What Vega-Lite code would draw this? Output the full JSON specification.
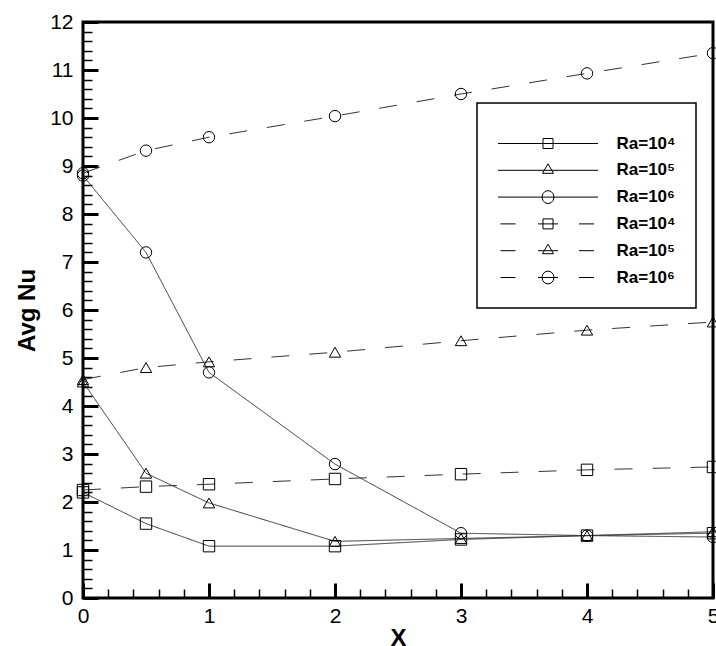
{
  "$schema": "https://vega.github.io/schema/vega-lite/v6.json",
  "width": 630,
  "height": 576,
  "autosize": {"type": "none"},
  "padding": {"left": 83, "top": 22, "right": 3, "bottom": 48},
  "background": "white",
  "config": {
    "view": {"stroke": "black", "strokeWidth": 3},
    "font": "Liberation Sans",
    "legend": {"strokeWidth": 1.5},
    "axis": {
      "grid": false,
      "domain": false,
      "tickColor": "black",
      "labelFont": "Liberation Sans",
      "labelFontSize": 21,
      "labelColor": "black",
      "labelOverlap": false,
      "labelFlush": false,
      "titleFont": "Liberation Sans",
      "titleFontSize": 24,
      "titleFontWeight": "bold",
      "titleColor": "black"
    }
  },
  "data": {
    "values": [
      {"x": 0, "nu": 2.2, "s": "s4"}, {"x": 0.5, "nu": 1.55, "s": "s4"}, {"x": 1, "nu": 1.08, "s": "s4"}, {"x": 2, "nu": 1.08, "s": "s4"}, {"x": 3, "nu": 1.22, "s": "s4"}, {"x": 4, "nu": 1.3, "s": "s4"}, {"x": 5, "nu": 1.35, "s": "s4"},
      {"x": 0, "nu": 4.5, "s": "s5"}, {"x": 0.5, "nu": 2.6, "s": "s5"}, {"x": 1, "nu": 1.98, "s": "s5"}, {"x": 2, "nu": 1.18, "s": "s5"}, {"x": 3, "nu": 1.24, "s": "s5"}, {"x": 4, "nu": 1.3, "s": "s5"}, {"x": 5, "nu": 1.38, "s": "s5"},
      {"x": 0, "nu": 8.8, "s": "s6"}, {"x": 0.5, "nu": 7.2, "s": "s6"}, {"x": 1, "nu": 4.7, "s": "s6"}, {"x": 2, "nu": 2.79, "s": "s6"}, {"x": 3, "nu": 1.35, "s": "s6"}, {"x": 4, "nu": 1.3, "s": "s6"}, {"x": 5, "nu": 1.27, "s": "s6"},
      {"x": 0, "nu": 2.25, "s": "d4"}, {"x": 0.5, "nu": 2.32, "s": "d4"}, {"x": 1, "nu": 2.37, "s": "d4"}, {"x": 2, "nu": 2.48, "s": "d4"}, {"x": 3, "nu": 2.58, "s": "d4"}, {"x": 4, "nu": 2.67, "s": "d4"}, {"x": 5, "nu": 2.73, "s": "d4"},
      {"x": 0, "nu": 4.55, "s": "d5"}, {"x": 0.5, "nu": 4.8, "s": "d5"}, {"x": 1, "nu": 4.92, "s": "d5"}, {"x": 2, "nu": 5.12, "s": "d5"}, {"x": 3, "nu": 5.36, "s": "d5"}, {"x": 4, "nu": 5.58, "s": "d5"}, {"x": 5, "nu": 5.75, "s": "d5"},
      {"x": 0, "nu": 8.85, "s": "d6"}, {"x": 0.5, "nu": 9.32, "s": "d6"}, {"x": 1, "nu": 9.6, "s": "d6"}, {"x": 2, "nu": 10.04, "s": "d6"}, {"x": 3, "nu": 10.5, "s": "d6"}, {"x": 4, "nu": 10.93, "s": "d6"}, {"x": 5, "nu": 11.35, "s": "d6"}
    ]
  },
  "resolve": {
    "axis": {"x": "independent", "y": "independent"},
    "scale": {"shape": "independent"}
  },
  "layer": [
    {
      "mark": {"type": "line", "strokeWidth": 1, "color": "#333333"},
      "encoding": {
        "x": {
          "field": "x",
          "type": "quantitative",
          "scale": {"domain": [0, 5], "nice": false, "zero": false},
          "axis": {
            "orient": "bottom",
            "title": "X",
            "values": [0, 1, 2, 3, 4, 5],
            "tickSize": -15,
            "tickWidth": 3,
            "labelPadding": 22,
            "titlePadding": 0
          }
        },
        "y": {
          "field": "nu",
          "type": "quantitative",
          "scale": {"domain": [0, 12], "nice": false, "zero": false},
          "axis": {
            "orient": "left",
            "title": "Avg Nu",
            "values": [0, 1, 2, 3, 4, 5, 6, 7, 8, 9, 10, 11, 12],
            "tickSize": -15,
            "tickWidth": 3,
            "labelPadding": 25,
            "titlePadding": 10
          }
        },
        "detail": {"field": "s", "type": "nominal"},
        "strokeDash": {
          "field": "s",
          "type": "nominal",
          "scale": {
            "domain": ["s4", "s5", "s6", "d4", "d5", "d6"],
            "range": [[1, 0], [1, 0], [1, 0], [18, 20], [18, 20], [18, 20]]
          },
          "legend": null
        }
      }
    },
    {
      "mark": {"type": "point", "filled": false, "color": "black", "strokeWidth": 1, "size": 130, "opacity": 1},
      "encoding": {
        "x": {
          "field": "x",
          "type": "quantitative",
          "axis": {
            "orient": "bottom",
            "title": null,
            "labels": false,
            "values": [0, 0.2, 0.4, 0.6, 0.8, 1, 1.2, 1.4, 1.6, 1.8, 2, 2.2, 2.4, 2.6, 2.8, 3, 3.2, 3.4, 3.6, 3.8, 4, 4.2, 4.4, 4.6, 4.8, 5],
            "tickSize": -9,
            "tickWidth": 1.5
          }
        },
        "y": {
          "field": "nu",
          "type": "quantitative",
          "axis": {
            "orient": "left",
            "title": null,
            "labels": false,
            "values": [0, 0.2, 0.4, 0.6, 0.8, 1, 1.2, 1.4, 1.6, 1.8, 2, 2.2, 2.4, 2.6, 2.8, 3, 3.2, 3.4, 3.6, 3.8, 4, 4.2, 4.4, 4.6, 4.8, 5, 5.2, 5.4, 5.6, 5.8, 6, 6.2, 6.4, 6.6, 6.8, 7, 7.2, 7.4, 7.6, 7.8, 8, 8.2, 8.4, 8.6, 8.8, 9, 9.2, 9.4, 9.6, 9.8, 10, 10.2, 10.4, 10.6, 10.8, 11, 11.2, 11.4, 11.6, 11.8, 12],
            "tickSize": -9,
            "tickWidth": 1.5
          }
        },
        "shape": {
          "field": "s",
          "type": "nominal",
          "scale": {
            "domain": ["s4", "s5", "s6", "d4", "d5", "d6"],
            "range": ["square", "triangle-up", "circle", "square", "triangle-up", "circle"]
          },
          "legend": null
        }
      }
    },
    {
      "mark": {"type": "point", "filled": false, "color": "black", "strokeWidth": 1, "size": 10, "opacity": 0},
      "encoding": {
        "x": {"field": "x", "type": "quantitative", "axis": null},
        "y": {"field": "nu", "type": "quantitative", "axis": null},
        "shape": {
          "field": "s",
          "type": "nominal",
          "scale": {
            "domain": ["s4", "s5", "s6", "d4", "d5", "d6"],
            "range": [
              "M-1,0H1M-0.1,-0.1H0.1V0.1H-0.1Z",
              "M-1,0H1M0,-0.13L0.11,0.06L-0.11,0.06Z",
              "M-1,0H1M0.12,0L0.104,0.065L0.06,0.113L0,0.13L-0.06,0.113L-0.104,0.065L-0.12,0L-0.104,-0.065L-0.06,-0.113L0,-0.13L0.06,-0.113L0.104,-0.065Z",
              "M-0.95,0H-0.65M-0.2,0H0.2M0.62,0H0.92M-0.1,-0.1H0.1V0.1H-0.1Z",
              "M-0.95,0H-0.65M-0.2,0H0.2M0.62,0H0.92M0,-0.13L0.11,0.06L-0.11,0.06Z",
              "M-0.95,0H-0.65M-0.2,0H0.2M0.62,0H0.92M0.12,0L0.104,0.065L0.06,0.113L0,0.13L-0.06,0.113L-0.104,0.065L-0.12,0L-0.104,-0.065L-0.06,-0.113L0,-0.13L0.06,-0.113L0.104,-0.065Z"
            ]
          },
          "legend": {
            "orient": "none",
            "legendX": 394,
            "legendY": 81,
            "title": "\u00a0",
            "titleFontSize": 6,
            "titlePadding": 4,
            "padding": 20.5,
            "strokeColor": "black",
            "fillColor": "white",
            "symbolSize": 10000,
            "symbolOffset": 0,
            "symbolStrokeWidth": 1,
            "symbolStrokeColor": "black",
            "symbolFillColor": "transparent",
            "symbolOpacity": 1,
            "labelOffset": 18,
            "clipHeight": 20,
            "rowPadding": 6.8,
            "labelFont": "Liberation Sans",
            "labelFontSize": 17,
            "labelFontWeight": "bold",
            "labelColor": "black",
            "labelExpr": "'Ra=10' + (indexof(datum.value, '4') > 0 ? '⁴' : indexof(datum.value, '5') > 0 ? '⁵' : '⁶') + '\u00a0\u00a0\u00a0\u00a0\u00a0\u00a0\u00a0\u00a0\u00a0'"
          }
        }
      }
    }
  ]
}
